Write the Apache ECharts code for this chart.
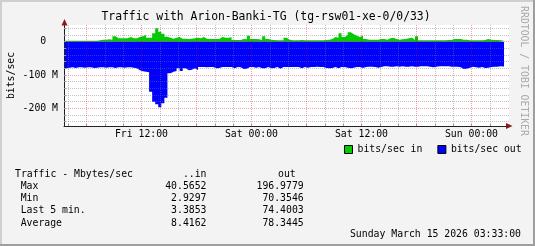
<!DOCTYPE html>
<html><head><meta charset="utf-8">
<script src="https://cdn.jsdelivr.net/npm/echarts@6/dist/echarts.min.js"></script>
<style>html,body{margin:0;padding:0;background:#f3f3f3}#c{width:535px;height:246px}</style>
</head><body><div id="c"></div>
<script>
// ---- data ----
const chartTitle = 'Traffic with Arion-Banki-TG (tg-rsw01-xe-0/0/33)';
const yAxisTitle = 'bits/sec';
const startHour = 3.5;      // first sample: Fri 03:30 (hours since Fri 00:00)
const stepHour = 1 / 3;     // 20-minute samples
const endHour = 51.55;      // Sun 03:33
const inMbits = [
  3,3,3,3,3,3,3,3,3,3,3,4,
  6,6,7,6,16,10,10,10,10,14,10,10,
  14,16,20,12,12,25,40.5,30,24,15,12,9,
  12,14,9,9,8,9,10,12,10,14,8,8,
  8,8,8,14,12,12,13,5,5,5,8,7,
  18,8,8,7,5,16,8,6,5,4,4,4,
  12,6,4,4,4,5,4,4,4,4,4,4,
  4,5,6,8,14,12,25,14,20,28,22,18,
  14,18,8,6,6,6,6,8,8,6,10,12,
  8,6,7,8,10,12,6,16,4,4,4,4,
  4,4,4,4,4,5,5,8,8,8,6,6,
  4,4,4,4,4,5,8,6,5,5,4,3.4
];
const outMbits = [
  -80,-78,-77,-79,-77,-77,-78,-77,-77,-79,-78,-77,
  -77,-78,-77,-77,-79,-77,-77,-78,-77,-77,-78,-80,
  -86,-89,-90,-92,-150,-180,-188,-197,-185,-168,-95,-90,
  -88,-80,-88,-80,-86,-84,-80,-85,-76,-76,-77,-76,
  -76,-80,-79,-76,-76,-76,-76,-80,-76,-77,-82,-81,
  -76,-76,-78,-76,-80,-80,-76,-80,-79,-76,-81,-76,
  -76,-76,-76,-76,-76,-80,-76,-78,-76,-76,-75,-76,
  -76,-79,-80,-79,-76,-80,-76,-76,-78,-80,-78,-76,
  -76,-79,-76,-75,-75,-76,-78,-76,-74,-74,-75,-75,
  -74,-75,-74,-75,-75,-74,-75,-75,-74,-74,-74,-75,
  -77,-75,-74,-74,-74,-74,-75,-75,-75,-77,-82,-81,
  -78,-75,-77,-78,-76,-79,-78,-76,-75,-75,-74,-74.4
];
const xGridHours = [4,6,8,10,12,14,16,18,20,22,24,26,28,30,32,34,36,38,40,42,44,46,48,50];
const xLabelHours = [12,24,36,48];
const xLabelTexts = ['Fri 12:00','Sat 00:00','Sat 12:00','Sun 00:00'];
const yGridValues = [-240,-220,-200,-180,-160,-140,-120,-100,-80,-60,-40,-20,0,20,40];
const yLabelValues = [0,-100,-200];
const yLabelTexts = ['0  ','-100 M','-200 M'];
const legendNames = ['bits/sec in','bits/sec out'];
const statHeader = ['Traffic - Mbytes/sec','..in','out'];
const statRows = ['Max','Min','Last 5 min.','Average'];
const statIn = ['40.5652','2.9297','3.3853','8.4162'];
const statOut = ['196.9779','70.3546','74.4003','78.3445'];
const dateText = 'Sunday March 15 2026 03:33:00';
const watermark = 'RRDTOOL / TOBI OETIKER';

// ---- build ----
function toPairs(vals){
  const p = vals.map((v,i)=>[startHour + i*stepHour, v]);
  p.push([endHour, vals[vals.length-1]]);
  return p;
}
const MONO = 'DejaVu Sans Mono';
const FS = 9.8;
const GRAY = 'rgba(120,120,120,0.45)';
const RED = 'rgba(230,0,0,0.35)';
const ARROW = '#8a1a1a';

const graphics = [];
graphics.push({type:'text', x:266, y:17, style:{text:chartTitle, font:'11.4px '+MONO, fill:'#000', align:'center', verticalAlign:'middle'}});
graphics.push({type:'text', x:11, y:75.5, rotation:Math.PI/2, style:{text:yAxisTitle, font:FS+'px '+MONO, fill:'#000', align:'center', verticalAlign:'middle'}});
graphics.push({type:'text', x:523.5, y:71, rotation:-Math.PI/2, style:{text:watermark, font:FS+'px '+MONO, fill:'#aaaaaa', align:'center', verticalAlign:'middle'}});
// axis arrows
graphics.push({type:'polygon', shape:{points:[[64.5,19],[61.5,25.5],[67.5,25.5]]}, style:{fill:ARROW}, z:10});
graphics.push({type:'polygon', shape:{points:[[512.5,126],[506,123],[506,129]]}, style:{fill:ARROW}, z:10});
// stats block
const rowY = [174.3, 186.5, 198.7, 210.9, 223.1];
graphics.push({type:'text', x:15, y:rowY[0], style:{text:statHeader[0], font:FS+'px '+MONO, fill:'#000', align:'left', verticalAlign:'middle'}});
graphics.push({type:'text', x:206.5, y:rowY[0], style:{text:statHeader[1], font:FS+'px '+MONO, fill:'#000', align:'right', verticalAlign:'middle'}});
graphics.push({type:'text', x:278, y:rowY[0], style:{text:statHeader[2], font:FS+'px '+MONO, fill:'#000', align:'left', verticalAlign:'middle'}});
statRows.forEach((r,i)=>{
  graphics.push({type:'text', x:20.7, y:rowY[i+1], style:{text:r, font:FS+'px '+MONO, fill:'#000', align:'left', verticalAlign:'middle'}});
  graphics.push({type:'text', x:206.5, y:rowY[i+1], style:{text:statIn[i], font:FS+'px '+MONO, fill:'#000', align:'right', verticalAlign:'middle'}});
  graphics.push({type:'text', x:303.7, y:rowY[i+1], style:{text:statOut[i], font:FS+'px '+MONO, fill:'#000', align:'right', verticalAlign:'middle'}});
});
graphics.push({type:'text', x:521, y:234.7, style:{text:dateText, font:FS+'px '+MONO, fill:'#000', align:'right', verticalAlign:'middle'}});
// frame shading
graphics.push({type:'rect', shape:{x:0,y:0,width:535,height:2}, style:{fill:'#cfcfcf'}, z:20});
graphics.push({type:'rect', shape:{x:0,y:0,width:2,height:246}, style:{fill:'#cfcfcf'}, z:20});
graphics.push({type:'rect', shape:{x:533,y:0,width:2,height:246}, style:{fill:'#9e9e9e'}, z:20});
graphics.push({type:'rect', shape:{x:0,y:244,width:535,height:2}, style:{fill:'#9e9e9e'}, z:20});

const chart = echarts.init(document.getElementById('c'), null, {renderer:'canvas'});
chart.setOption({
  animation:false,
  backgroundColor:'#f3f3f3',
  grid:{left:64, right:26, top:25, bottom:120, show:true, backgroundColor:'#ffffff', borderWidth:0,
    containLabel:false, outerBoundsMode:'none'},
  xAxis:{
    type:'value', min:3.55, max:52.095, z:5,
    axisLine:{onZero:false, lineStyle:{color:'#222', width:1}},
    axisTick:{show:true, length:2, inside:true, customValues:xGridHours, lineStyle:{color:'#999'}},
    axisLabel:{customValues:xLabelHours, margin:3, fontFamily:MONO, fontSize:FS, color:'#000',
      formatter:v=>xLabelTexts[xLabelHours.indexOf(v)]},
    splitLine:{show:true, lineStyle:{color:[GRAY,RED,GRAY], type:[1,1], width:1}}
  },
  yAxis:{
    type:'value', min:-253, max:50, z:5,
    axisLine:{onZero:false, lineStyle:{color:'#222', width:1}},
    axisTick:{show:true, length:2, inside:true, customValues:yGridValues, lineStyle:{color:'#999'}},
    axisLabel:{customValues:yLabelValues, margin:6, fontFamily:MONO, fontSize:FS, color:'#000',
      formatter:v=>yLabelTexts[yLabelValues.indexOf(v)]},
    splitLine:{show:true, lineStyle:{color:[GRAY,GRAY,RED,GRAY,GRAY], type:[1,1], width:1}}
  },
  legend:{left:344, top:144.5, padding:0, itemWidth:8, itemHeight:8, itemGap:15, icon:'rect',
    itemStyle:{borderColor:'#000', borderWidth:1},
    textStyle:{fontFamily:MONO, fontSize:FS, color:'#000'}, data:legendNames},
  series:[
    {name:legendNames[0], type:'line', step:'end', data:toPairs(inMbits), showSymbol:false, symbol:'none',
      color:'#00cc00', lineStyle:{width:0}, areaStyle:{color:'#00cc00', opacity:1}, z:2},
    {name:legendNames[1], type:'line', step:'end', data:toPairs(outMbits), showSymbol:false, symbol:'none',
      color:'#0000ff', lineStyle:{width:0}, areaStyle:{color:'#0000ff', opacity:1}, z:2}
  ],
  graphic:graphics
});
</script></body></html>
